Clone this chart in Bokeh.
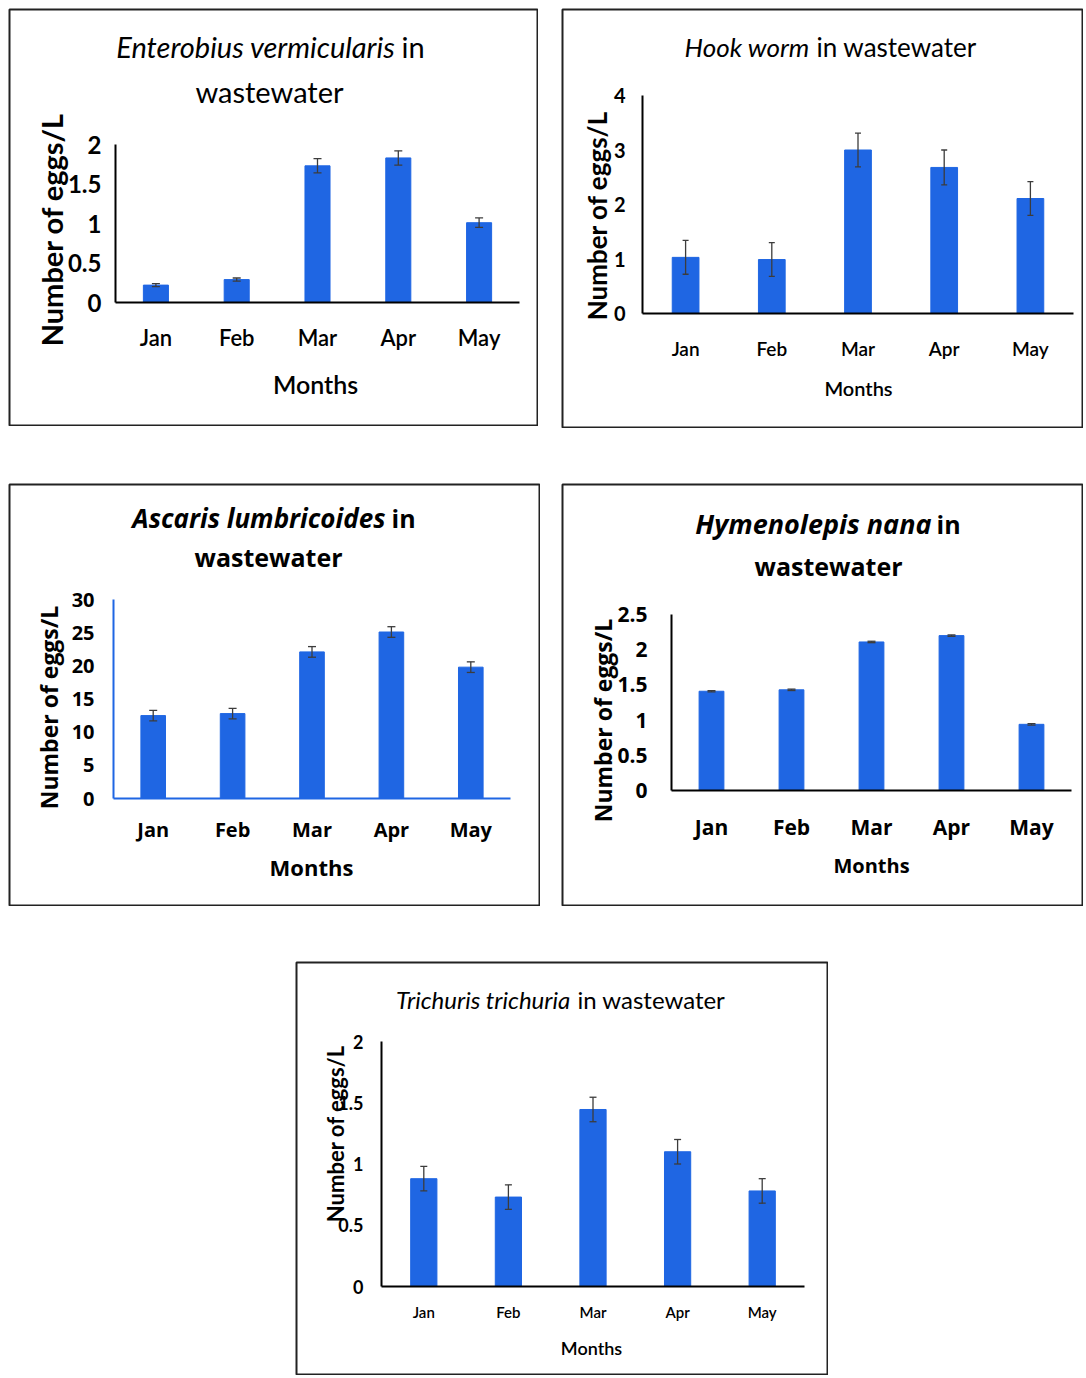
import math
from bokeh.plotting import figure
from bokeh.models import ColumnDataSource, Whisker, Label, Range1d, FixedTicker, Spacer, TeeHead
from bokeh.layouts import row, column
from bokeh.embed import file_html
from bokeh.resources import INLINE

# ---------------- data ----------------
months = ["Jan", "Feb", "Mar", "Apr", "May"]
y_label = "Number of eggs/L"
x_label = "Months"

entero_mean = [0.22, 0.29, 1.73, 1.83, 1.01]
entero_err = [0.02, 0.02, 0.09, 0.09, 0.06]
entero_ticks = [0, 0.5, 1, 1.5, 2]
entero_tick_labels = ["0", "0.5", "1", "1.5", "2"]

hook_mean = [1.03, 0.99, 3.00, 2.68, 2.11]
hook_err = [0.31, 0.31, 0.31, 0.32, 0.31]
hook_ticks = [0, 1, 2, 3, 4]
hook_tick_labels = ["0", "1", "2", "3", "4"]

ascaris_mean = [12.5, 12.8, 22.1, 25.1, 19.8]
ascaris_err = [0.8, 0.8, 0.8, 0.8, 0.8]
ascaris_ticks = [0, 5, 10, 15, 20, 25, 30]
ascaris_tick_labels = ["0", "5", "10", "15", "20", "25", "30"]

hymeno_mean = [1.41, 1.43, 2.11, 2.20, 0.94]
hymeno_err = [0.01, 0.01, 0.01, 0.01, 0.01]
hymeno_ticks = [0, 0.5, 1, 1.5, 2, 2.5]
hymeno_tick_labels = ["0", "0.5", "1", "1.5", "2", "2.5"]

trich_mean = [0.88, 0.73, 1.445, 1.10, 0.78]
trich_err = [0.10, 0.10, 0.10, 0.10, 0.10]
trich_ticks = [0, 0.5, 1, 1.5, 2]
trich_tick_labels = ["0", "0.5", "1", "1.5", "2"]

BAR = "#1F66E3"
ERR = "#3C3C3C"
N = len(months)
xpos = list(range(1, N + 1))


def panel(c):
    ox, oy = c["origin"]
    W, H = c["size"]
    L, R, T, B = c["frame"]          # where the axes sit (page px)
    ymax = c["ticks"][-1]
    fl, fr, ft, fb = ox + 1, ox + W - 1, oy + 1, oy + H - 1
    sx = (R - L) / N
    sy = (B - T) / ymax
    x0 = 0.5 - (L - fl) / sx
    x1 = N + 0.5 + (fr - R) / sx
    y0 = -(fb - B) / sy
    y1 = ymax + (T - ft) / sy

    def to_data(X, Y):
        return 0.5 + (X - L) / sx, (B - Y) / sy

    p = figure(width=W, height=H, x_range=Range1d(x0, x1), y_range=Range1d(y0, y1),
               output_backend="svg", toolbar_location=None,
               min_border_left=1, min_border_right=1, min_border_top=1, min_border_bottom=1,
               background_fill_color="white", border_fill_color="white")
    p.outline_line_color = "#222222"
    p.outline_line_width = 2
    p.xgrid.visible = False
    p.ygrid.visible = False

    mean, err = c["mean"], c["err"]
    src = ColumnDataSource(dict(x=xpos, top=mean,
                                upper=[m + e for m, e in zip(mean, err)],
                                lower=[m - e for m, e in zip(mean, err)]))
    p.vbar(x="x", top="top", width=0.31, source=src, fill_color=BAR, line_color=BAR)
    w = Whisker(base="x", upper="upper", lower="lower", source=src, level="overlay",
                line_color=ERR, line_width=1.3,
                upper_head=TeeHead(size=c["cap"], line_color=ERR, line_width=1.3),
                lower_head=TeeHead(size=c["cap"], line_color=ERR, line_width=1.3))
    p.add_layout(w)

    font = c["font"]
    xfont = c.get("xfont", font)
    ya = p.yaxis[0]
    xa = p.xaxis[0]
    ya.ticker = FixedTicker(ticks=c["ticks"])
    ya.major_label_overrides = {t: s for t, s in zip(c["ticks"], c["tick_labels"])}
    xa.ticker = FixedTicker(ticks=xpos)
    xa.major_label_overrides = {i: m for i, m in zip(xpos, months)}
    ya.fixed_location = 0.5
    xa.fixed_location = 0
    ya.bounds = (0, ymax)
    xa.bounds = (0.5, N + 0.5)
    for a in (xa, ya):
        a.major_tick_line_color = None
        a.minor_tick_line_color = None
        a.major_tick_out = 0
        a.major_tick_in = 0
        a.axis_line_width = 2
        a.axis_line_color = c.get("axis_color", "black")
        a.major_label_text_color = "black"
    ya.major_label_text_font = font
    ya.major_label_text_font_size = c["ytick_fs"]
    ya.major_label_text_font_style = "bold"
    ya.major_label_standoff = c["ytick_so"]
    xa.major_label_text_font = xfont
    xa.major_label_text_font_size = c["xtick_fs"]
    xa.major_label_text_font_style = c.get("xtick_style", "normal")
    xa.major_label_standoff = c["xtick_so"]

    # axis titles
    lx, ly = to_data(*c["ylab_xy"])
    p.add_layout(Label(x=lx, y=ly, text=y_label, text_font=font, text_font_size=c["ylab_fs"],
                       text_font_style="bold", angle=math.pi / 2, text_align="center",
                       text_baseline="middle", text_color="black"))
    mx, my = to_data(*c["xlab_xy"])
    p.add_layout(Label(x=mx, y=my, text=x_label, text_font=xfont, text_font_size=c["xlab_fs"],
                       text_font_style=c.get("xlab_style", "normal"), text_align="center",
                       text_baseline="middle", text_color="black"))

    # chart title pieces
    tf, tw = c["title_font"], c["title_weight"]
    tfs_i = c.get("title_fs_italic", c["title_fs"])
    tfs = c["title_fs"]
    xr, yy = to_data(c["split"][0], c["t1y"])
    p.add_layout(Label(x=xr, y=yy, text=c["t_italic"], text_font=tf, text_font_size=tfs_i,
                       text_font_style=("bold italic" if tw == "bold" else "italic"),
                       text_align="right", text_baseline="middle", text_color="black"))
    xl, _ = to_data(c["split"][1], c["t1y"])
    p.add_layout(Label(x=xl, y=yy, text=c["t_rest"], text_font=tf, text_font_size=tfs,
                       text_font_style=tw, text_align="left", text_baseline="middle",
                       text_color="black"))
    if c.get("t2"):
        x2, y2 = to_data(c["t2x"], c["t2y"])
        p.add_layout(Label(x=x2, y=y2, text=c["t2"], text_font=tf, text_font_size=tfs,
                           text_font_style=tw, text_align="center", text_baseline="middle",
                           text_color="black"))
    return p


CAL = "Lato"
CAL_SEMI = "Lato Semibold, Lato"
SEG = "Open Sans"

p1 = panel(dict(origin=(8, 8), size=(530, 418), frame=(115, 519, 144, 302),
                mean=entero_mean, err=entero_err, ticks=entero_ticks, tick_labels=entero_tick_labels,
                cap=8, font=CAL, xfont=CAL_SEMI, ytick_fs="24px", ytick_so=14, xtick_fs="22px", xtick_so=21,
                ylab_fs="29px", ylab_xy=(51, 229), xlab_fs="25px", xlab_xy=(315, 383),
                title_font=CAL, title_fs="29px", title_weight="normal",
                t_italic="Enterobius vermicularis", t_rest="in", split=(395, 401), t1y=46,
                t2="wastewater", t2x=269, t2y=91))

p2 = panel(dict(origin=(561, 8), size=(522, 420), frame=(642, 1073, 95, 313),
                mean=hook_mean, err=hook_err, ticks=hook_ticks, tick_labels=hook_tick_labels,
                cap=6, font=CAL, xfont=CAL_SEMI, ytick_fs="20px", ytick_so=17, xtick_fs="19px", xtick_so=23,
                ylab_fs="26px", ylab_xy=(596, 215), xlab_fs="20px", xlab_xy=(858, 387),
                title_font=CAL, title_fs="26px", title_weight="normal",
                t_italic="Hook worm", t_rest="in wastewater", split=(809, 816), t1y=46))

p3 = panel(dict(origin=(8, 483), size=(532, 423), frame=(113, 510, 599, 798),
                mean=ascaris_mean, err=ascaris_err, ticks=ascaris_ticks, tick_labels=ascaris_tick_labels,
                cap=8, font=SEG, axis_color=BAR, ytick_fs="20px", ytick_so=19,
                xtick_fs="20px", xtick_style="bold", xtick_so=17,
                ylab_fs="23px", ylab_xy=(48, 707), xlab_fs="22px", xlab_style="bold", xlab_xy=(311, 866),
                title_font=SEG, title_fs="25px", title_fs_italic="26px", title_weight="bold",
                t_italic="Ascaris lumbricoides", t_rest="in", split=(385, 391), t1y=517,
                t2="wastewater", t2x=268, t2y=556))

p4 = panel(dict(origin=(561, 483), size=(522, 423), frame=(671, 1071, 614, 790),
                mean=hymeno_mean, err=hymeno_err, ticks=hymeno_ticks, tick_labels=hymeno_tick_labels,
                cap=8, font=SEG, ytick_fs="21px", ytick_so=24,
                xtick_fs="21px", xtick_style="bold", xtick_so=22,
                ylab_fs="23px", ylab_xy=(602, 720), xlab_fs="20px", xlab_style="bold", xlab_xy=(871, 865),
                title_font=SEG, title_fs="25px", title_fs_italic="27px", title_weight="bold",
                t_italic="Hymenolepis nana", t_rest="in", split=(931, 936), t1y=523,
                t2="wastewater", t2x=828, t2y=565))

p5 = panel(dict(origin=(295, 961), size=(533, 414), frame=(381, 804, 1041, 1286),
                mean=trich_mean, err=trich_err, ticks=trich_ticks, tick_labels=trich_tick_labels,
                cap=7, font=CAL, xfont=CAL_SEMI, ytick_fs="18px", ytick_so=18, xtick_fs="15px", xtick_so=16,
                ylab_fs="22px", ylab_xy=(335, 1133), xlab_fs="18px", xlab_xy=(591, 1347),
                title_font=CAL, title_fs="24px", title_weight="normal",
                t_italic="Trichuris trichuria", t_rest="in wastewater", split=(570, 577), t1y=999))

grid = column(
    row(p1, Spacer(width=23, height=10), p2),
    Spacer(width=10, height=55),
    row(p3, Spacer(width=21, height=10), p4),
    Spacer(width=10, height=55),
    row(Spacer(width=287, height=10), p5),
)
layout = column(Spacer(width=10, height=8), row(Spacer(width=8, height=10), grid))

open("out.html", "w").write(file_html(layout, INLINE))
